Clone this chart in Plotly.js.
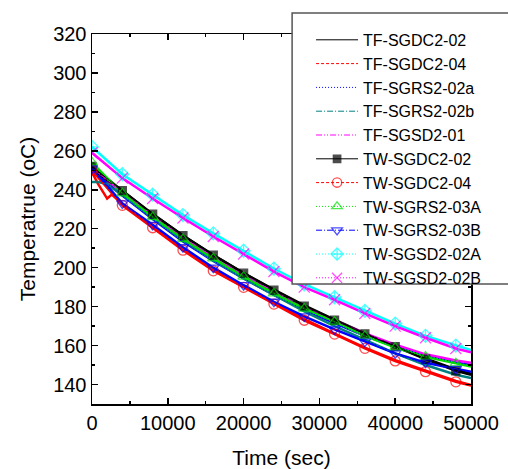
<!DOCTYPE html>
<html>
<head>
<meta charset="utf-8">
<script src="https://cdn.plot.ly/plotly-3.0.1.min.js"></script>
<style>html,body{margin:0;padding:0;background:#fff;}#chart{width:508px;height:469px;}</style>
</head>
<body>
<div id="chart"></div>
<script>
// ---- data ----
const tTF = [0, 800, 2000, 2600, 4000, 8000, 12000, 16000, 20000, 24000, 28000, 32000, 36000, 40000, 44000, 48000, 50000];
const tfSGDC2_02 = [251, 248, 244.5, 243, 239.5, 227.5, 216.5, 206.5, 197.2, 188.7, 180.7, 173.3, 166.2, 159.6, 153.4, 147.8, 145.5];
const tfSGDC2_04 = [249, 243, 235.5, 237.5, 233, 221, 209.5, 199, 190.2, 181.7, 173.6, 166.2, 159, 152.5, 147, 141.8, 139.7];
const tfSGRS2_02a = [251, 248, 243, 241.5, 237, 225, 213.5, 203.5, 194.5, 186, 178.3, 171.5, 165, 159.5, 154.8, 151.3, 150];
const tfSGRS2_02b = [244, 244, 243, 241, 237.5, 225.5, 214, 203.8, 194.5, 185.8, 177.5, 170, 162.8, 156, 150, 145, 143.3];
const tfSGSD2_01 = [253, 249, 245, 243, 239, 227, 215.5, 205.5, 196.2, 187.8, 180, 172.8, 166.2, 160.5, 155.5, 152.3, 151.2];

const tTW = [0, 4000, 8000, 12000, 16000, 20000, 24000, 28000, 32000, 36000, 40000, 44000, 48000, 50000];
const twSGDC2_02 = [252, 239.5, 227.5, 216.5, 206.5, 197.2, 188.5, 180.3, 173, 166, 159.5, 153, 147, 145];
const twSGDC2_04 = [250, 232, 220.5, 209, 198.4, 189.9, 181.3, 173, 165.9, 158.6, 152.1, 146.6, 141.4, 139.5];
const twSGRS2_03A = [254, 238.2, 226, 214.7, 204.8, 195.4, 186.8, 179, 172.3, 165, 159, 154.3, 150.9, 149.3];
const twSGRS2_03B = [251, 233, 222, 210.5, 200, 191, 182.5, 175, 168.3, 162, 156, 151.2, 148, 146.5];
const twSGSD2_02A = [262, 248, 237.5, 227, 217.6, 208.7, 199.5, 191.5, 184.8, 177.8, 171.3, 165, 160, 157.7];
const twSGSD2_02B = [259, 246, 235.5, 225.5, 216, 207, 198, 190, 183.5, 176.5, 170, 164, 158.5, 156.5];

const xTitle = 'Time (sec)';
const yTitle = 'Temperatrue (oC)';

// ---- series definitions ----
const series = [
  {name: 'TF-SGDC2-02', x: tTF, y: tfSGDC2_02, color: '#000000', dash: 'solid'},
  {name: 'TF-SGDC2-04', x: tTF, y: tfSGDC2_04, color: '#ff0000', dash: '3px,2px'},
  {name: 'TF-SGRS2-02a', x: tTF, y: tfSGRS2_02a, color: '#0000ff', dash: '1px,2px'},
  {name: 'TF-SGRS2-02b', x: tTF, y: tfSGRS2_02b, color: '#008080', dash: '6px,2px,1px,2px'},
  {name: 'TF-SGSD2-01', x: tTF, y: tfSGSD2_01, color: '#ff00ff', dash: '6px,2px,1px,2px,1px,2px'},
  {name: 'TW-SGDC2-02', x: tTW, y: twSGDC2_02, color: '#000000', dash: 'solid', symbol: 'square', msize: 8},
  {name: 'TW-SGDC2-04', x: tTW, y: twSGDC2_04, color: '#ff0000', dash: '3px,2px', symbol: 'circle-open', msize: 10},
  {name: 'TW-SGRS2-03A', x: tTW, y: twSGRS2_03A, color: '#00e000', dash: '1px,2px', symbol: 'triangle-up-open', msize: 10},
  {name: 'TW-SGRS2-03B', x: tTW, y: twSGRS2_03B, color: '#0000ff', dash: '6px,2px,1px,2px', symbol: 'triangle-down-open', msize: 10},
  {name: 'TW-SGSD2-02A', x: tTW, y: twSGSD2_02A, color: '#00ffff', dash: '1px,2px', symbol: 'diamond-cross-open', msize: 10},
  {name: 'TW-SGSD2-02B', x: tTW, y: twSGSD2_02B, color: '#ff00ff', dash: '1px,2px', symbol: 'x-thin-open', msize: 11}
];

const traces = [];
// thick plotted curves (no legend)
series.forEach(s => {
  traces.push({
    type: 'scatter', mode: 'lines', x: s.x, y: s.y, showlegend: false, hoverinfo: 'skip',
    line: {color: s.color, width: 2.5}
  });
});
// legend traces with the symbols
series.forEach(s => {
  const tr = {
    type: 'scatter', x: s.x, y: s.y, name: s.name,
    line: {color: s.color, width: 1, dash: s.dash}
  };
  if (s.symbol) {
    tr.mode = 'lines+markers';
    tr.marker = {
      symbol: s.symbol,
      size: s.x.map(v => (v % 4000 === 0 ? s.msize : 0)),
      color: s.color,
      line: {color: s.color, width: 1.3}
    };
  } else {
    tr.mode = 'lines';
  }
  traces.push(tr);
});

const axisCommon = {
  showline: true, linecolor: '#000', linewidth: 1.5, mirror: 'ticks',
  ticks: 'inside', ticklen: 6, tickwidth: 1.5, tickcolor: '#000',
  showgrid: false, zeroline: false, tickformat: 'd',
  tickfont: {family: 'Liberation Sans, Arial, sans-serif', size: 20, color: '#000'},
  minor: {ticks: 'inside', ticklen: 3, tickwidth: 1.5, tickcolor: '#000', showgrid: false}
};

const layout = {
  width: 508, height: 469,
  margin: {l: 92, r: 37, t: 34, b: 65},
  paper_bgcolor: '#fff', plot_bgcolor: '#fff',
  font: {family: 'Liberation Sans, Arial, sans-serif', color: '#000'},
  xaxis: Object.assign({}, axisCommon, {
    range: [0, 50000], tickmode: 'linear', tick0: 0, dtick: 10000,
    minor: Object.assign({}, axisCommon.minor, {dtick: 5000}),
    title: {text: xTitle, font: {size: 21}, standoff: 20}
  }),
  yaxis: Object.assign({}, axisCommon, {
    range: [130, 320], tickmode: 'linear', tick0: 140, dtick: 20,
    minor: Object.assign({}, axisCommon.minor, {dtick: 10}),
    title: {text: yTitle, font: {size: 21}, standoff: 12}
  }),
  shapes: [{
    type: 'rect', xref: 'paper', yref: 'paper', layer: 'above',
    x0: 0.528, x1: 1.2, y0: 0.324, y1: 1.057,
    line: {color: '#555', width: 1.5}, fillcolor: '#fff'
  }],
  legend: {
    x: 0.578, y: 1.03, xanchor: 'left', yanchor: 'top',
    bgcolor: 'rgba(0,0,0,0)', borderwidth: 0, maxheight: 440,
    font: {size: 16, color: '#000'}, itemwidth: 42, tracegroupgap: 0,
    traceorder: 'normal'
  },
  showlegend: true
};

Plotly.newPlot('chart', traces, layout, {displayModeBar: false, staticPlot: true});
</script>
</body>
</html>
